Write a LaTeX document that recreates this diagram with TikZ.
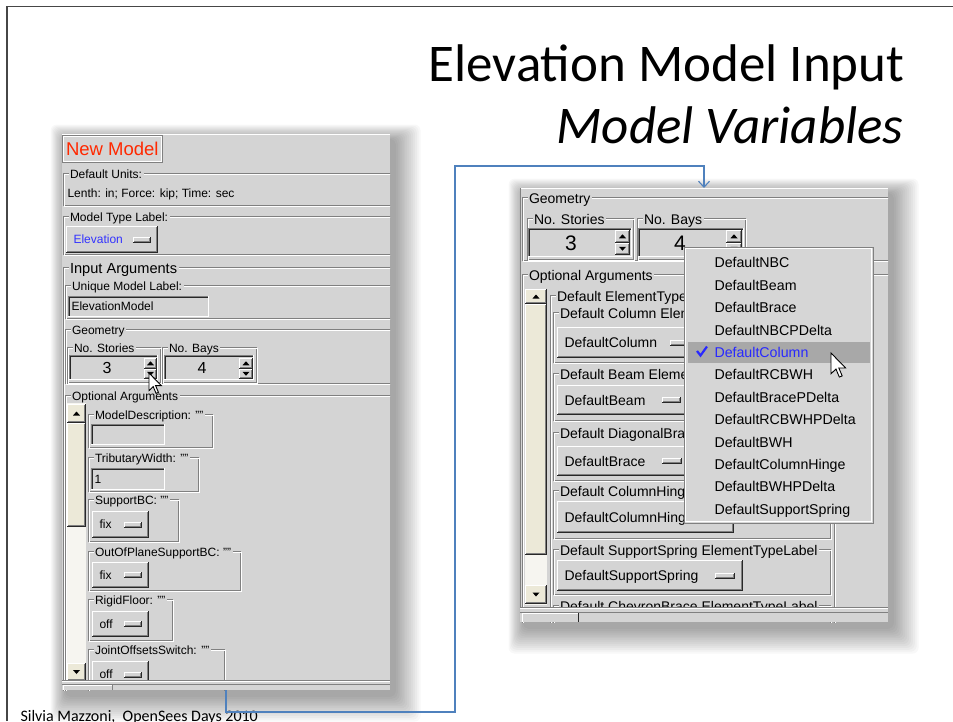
\documentclass[tikz,border=0pt]{standalone}
\usepackage{fontspec}
\setmainfont{Liberation Sans}
\newfontfamily\calfont{Carlito}
\usetikzlibrary{arrows.meta}
\definecolor{panel}{RGB}{212,212,212}
\definecolor{gdark}{RGB}{128,128,128}
\definecolor{bdark}{RGB}{40,40,40}
\definecolor{cream}{RGB}{236,233,216}
\definecolor{track}{RGB}{246,245,240}
\definecolor{menuc}{RGB}{214,214,214}
\definecolor{hl}{RGB}{168,168,168}
\definecolor{selblue}{RGB}{40,40,255}
\definecolor{eblue}{RGB}{50,50,255}
\definecolor{nmred}{RGB}{255,40,0}
\definecolor{connc}{RGB}{79,129,189}
\definecolor{framec}{RGB}{70,70,70}
\newcounter{gnode}
\newcommand\guiS{\fontsize{12}{13}\selectfont}
\newcommand\guiB{\fontsize{14.6}{16}\selectfont}
\newcommand\guiR{\fontsize{14}{15}\selectfont}
\newcommand\guiM{\fontsize{14.2}{15}\selectfont}
% raised box
\newcommand\gBtn[5][panel]{%
  \fill[#1] (#2,#3) rectangle (#4,#5);
  \draw[white] (#2+0.5,#5-1) -- (#2+0.5,#3+0.5) -- (#4-1,#3+0.5);
  \draw[bdark] (#2,#5-0.5) -- (#4-0.5,#5-0.5) -- (#4-0.5,#3);
  \draw[gdark] (#2+1,#5-1.5) -- (#4-1.5,#5-1.5) -- (#4-1.5,#3+1);
}
% sunken box
\newcommand\gSunk[4]{%
  \fill[panel] (#1,#2) rectangle (#3,#4);
  \draw[gdark] (#1+0.5,#4) -- (#1+0.5,#2+0.5) -- (#3,#2+0.5);
  \draw[bdark] (#1+1.5,#4-1) -- (#1+1.5,#2+1.5) -- (#3-1,#2+1.5);
  \draw[white] (#1,#4-0.5) -- (#3-0.5,#4-0.5) -- (#3-0.5,#2);
}
% etched group frame with label
\newcommand\gFrame[6]{%
  \draw[gdark] (#1+0.5,#2+0.5) rectangle (#3+0.5,#4+0.5);
  \draw[white] (#1+1.5,#2+1.5) rectangle (#3+1.5,#4+1.5);
  \stepcounter{gnode}%
  \node[#6] (g\arabic{gnode}) at (#1+5,#2+1) {#5};
}
% menubutton with text and indicator
\newcommand\gMB[8]{%
  \gBtn{#1}{#2}{#3}{#4}%
  \pgfmathsetmacro\gcy{(#2+#4)/2}%
  \stepcounter{gnode}%
  \node[#6] (g\arabic{gnode}) at (#1+7,\gcy) {#5};
  \gBtn{#7}{\gcy-3}{#8}{\gcy+3}%
}
\newcommand\gUp[2]{\fill[black] (#1-3.5,#2+2) -- (#1+3.5,#2+2) -- (#1,#2-2) -- cycle;}
\newcommand\gDown[2]{\fill[black] (#1-3.5,#2-2) -- (#1+3.5,#2-2) -- (#1,#2+2) -- cycle;}
\newcommand\gSpin[4]{%
  \pgfmathsetmacro\gmid{(#2+#4)/2}%
  \pgfmathsetmacro\gcx{(#1+#3)/2}%
  \pgfmathsetmacro\gua{(#2+\gmid)/2}%
  \pgfmathsetmacro\gda{(\gmid+#4)/2}%
  \gBtn{#1}{#2}{#3}{\gmid}%
  \gBtn{#1}{\gmid}{#3}{#4}%
  \gUp{\gcx}{\gua}\gDown{\gcx}{\gda}%
}
\newcommand\gShadow[4]{%
  \foreach \k in {1,...,14}{%
    \fill[black,opacity=0.028,rounded corners=6pt] (#1-1.1*\k+4,#2-1.1*\k+6) rectangle (#3+1.9*\k+4,#4+1.9*\k+5);
  }%
}
\newcommand\gCursor[3]{%
  \draw[black,fill=white,line width=0.9pt,line join=miter,shift={(#1,#2)},scale=#3]
    (0,0) -- (0,16) -- (3.8,12.3) -- (6.4,18.5) -- (8.6,17.6) -- (6,11.5) -- (11.2,11.5) -- cycle;
}
\tikzset{
  pnl/.style={fill=panel,draw=none,inner sep=0pt,outer sep=0pt},
  glabL/.style={anchor=west,fill=panel,inner xsep=1.5pt,inner ysep=0pt,font=\guiS,text height=8.6pt,text depth=0pt},
  glabR/.style={anchor=west,fill=panel,inner xsep=1.5pt,inner ysep=0pt,font=\guiR,text height=10pt,text depth=0pt},
  gtxtL/.style={anchor=west,inner sep=0pt,font=\guiS,text height=8.6pt,text depth=0pt},
  gtxtR/.style={anchor=west,inner sep=0pt,font=\guiR,text height=10pt,text depth=0pt},
  mitem/.style={anchor=west,inner sep=0pt,font=\guiM,text height=10.2pt,text depth=0pt},
  numL/.style={inner sep=0pt,font=\fontsize{16}{17}\selectfont,text height=11.5pt,text depth=0pt},
  numR/.style={inner sep=0pt,font=\fontsize{21}{22}\selectfont,text height=15pt,text depth=0pt},
  conn/.style={draw=connc,line width=1.1pt,-{Straight Barb[length=6pt,width=11pt]}},
}
\begin{document}
\begin{tikzpicture}[x=1pt,y=-1pt,line width=1pt]
\useasboundingbox (0,0) rectangle (953,721);
\fill[white] (0,0) rectangle (953,721);
% slide frame
\draw[framec,line width=1.3pt] (7,721) -- (7,6.5) -- (953,6.5);
% titles
\node[anchor=base east,inner sep=0pt,font=\calfont\fontsize{53}{60}\selectfont] (title) at (905,81) {Elevation Model Input};
\node[anchor=base east,inner sep=0pt,font=\calfont\itshape\fontsize{53}{60}\selectfont] (subtitle) at (904,143) {Model Variables};
\node[anchor=base west,inner sep=0pt,font=\calfont\fontsize{16}{18}\selectfont] (footer) at (20,721) {Silvia Mazzoni,\ \ OpenSees Days 2010};

% ================= LEFT PANEL =================
\gShadow{62}{134}{390}{690}
\node[pnl,minimum width=328pt,minimum height=556pt] (lp) at (226,412) {};
\begin{scope}
\clip (62,134) rectangle (390,690);
\draw[white] (62,134.5) -- (390,134.5);
\draw[gdark] (62.5,135.5) rectangle (162.5,162.5);
\draw[white] (63.5,136.5) rectangle (161.5,161.5);
\node[anchor=west,inner sep=0pt,text height=13pt,text depth=0pt,font=\fontsize{18.5}{19}\selectfont,text=nmred] (newmodel) at (65.5,149) {New Model};
\gFrame{63}{173}{400}{205}{Default Units:}{glabL}
\node[gtxtL] (units) at (67,193.5) {Lenth: in; Force: kip; Time: sec};
\gFrame{63}{216}{400}{254}{Model Type Label:}{glabL}
\gMB{66}{226}{158}{253}{Elevation}{gtxtL,text=eblue}{133}{151}
\gFrame{63}{267}{400}{700}{Input Arguments}{glabL,font=\guiB,text height=10.5pt}
\gFrame{65}{285}{400}{318}{Unique Model Label:}{glabL}
\gSunk{68}{296}{209}{317}
\node[gtxtL] (uml) at (71,306.5) {ElevationModel};
\gFrame{65}{329}{400}{383}{Geometry}{glabL}
\gFrame{67}{347}{160}{382}{No. Stories}{glabL}
\gSunk{69}{355}{158}{380}
\node[numL] (nsL) at (107,368) {3};
\gSpin{144}{358}{157}{379}
\gFrame{162}{347}{256}{382}{No. Bays}{glabL}
\gSunk{164}{355}{254}{380}
\node[numL] (nbL) at (202,368) {4};
\gSpin{239}{358}{253}{379}
\gFrame{65}{395}{400}{700}{Optional Arguments}{glabL}
% scrollbar
\fill[track] (67,403) rectangle (86,680);
\gBtn[cream]{67}{404}{86}{423}
\gUp{76.5}{413.5}
\gBtn[cream]{67}{423}{86}{527}
\gBtn[cream]{67}{663}{86}{681}
\gDown{76.5}{672}
% argument groups
\gFrame{88}{414}{212}{447}{ModelDescription: ""}{glabL}
\gSunk{91}{424}{165}{445}
\gFrame{88}{457}{198}{491}{TributaryWidth: ""}{glabL}
\gSunk{91}{468}{165}{490}
\node[gtxtL] (tw) at (94,479) {1};
\gFrame{88}{499}{178}{541}{SupportBC: ""}{glabL}
\gMB{92}{511}{149}{538}{fix}{gtxtL}{124}{142}
\gFrame{88}{551}{240}{590}{OutOfPlaneSupportBC: ""}{glabL}
\gMB{92}{562}{149}{588}{fix}{gtxtL}{124}{142}
\gFrame{88}{599}{172}{640}{RigidFloor: ""}{glabL}
\gMB{92}{611}{149}{637}{off}{gtxtL}{124}{142}
\gFrame{88}{649}{224}{700}{JointOffsetsSwitch: ""}{glabL}
\gMB{92}{661}{149}{688}{off}{gtxtL}{124}{142}
% bottom strip
\fill[panel] (62,680) rectangle (390,690);
\draw[gdark] (62,680.5) -- (390,680.5);
\draw[white] (62,681.5) -- (390,681.5);
\draw[gdark] (62,684.5) -- (390,684.5);
\draw[white] (63.5,690) -- (63.5,685.5) -- (112,685.5);
\draw[gdark] (112.5,685) -- (112.5,690);
\end{scope}
\gCursor{149}{373}{1.1}

% ================= RIGHT PANEL =================
\gShadow{520}{188}{888}{622}
\node[pnl,minimum width=368pt,minimum height=434pt] (rp) at (704,405) {};
\begin{scope}
\clip (520,188) rectangle (888,622);
\draw[white] (520,188.5) -- (888,188.5);
\draw[gdark] (520.5,188) -- (520.5,622);
\gFrame{522}{197}{900}{260}{Geometry}{glabR}
\gFrame{527}{218}{633}{259}{No. Stories}{glabR}
\gSunk{528}{228}{632}{257}
\node[numR] (nsR) at (571,243) {3};
\gSpin{615}{230}{630}{255}
\gFrame{637}{218}{745}{259}{No. Bays}{glabR}
\gSunk{638}{228}{744}{257}
\node[numR] (nbR) at (680,243) {4};
\gSpin{726}{230}{742}{255}
\gFrame{522}{274}{900}{660}{Optional Arguments}{glabR}
% scrollbar
\fill[track] (525,289) rectangle (547,605);
\gBtn[cream]{525}{289}{547}{304}
\gUp{536}{296.5}
\gBtn[cream]{525}{304}{547}{555}
\gBtn[cream]{525}{585}{547}{604}
\gDown{536}{594.5}
% element type groups
\gFrame{550}{295}{834}{670}{Default ElementTypeLabel}{glabR}
\gFrame{553}{312}{830}{362}{Default Column ElementTypeLabel}{glabR}
\gMB{557}{327}{705}{358}{DefaultColumn}{gtxtR}{670}{690}
\gFrame{553}{373}{830}{420}{Default Beam ElementTypeLabel}{glabR}
\gMB{557}{385}{690}{415}{DefaultBeam}{gtxtR}{662}{681}
\gFrame{553}{432}{830}{480}{Default DiagonalBrace ElementTypeLabel}{glabR}
\gMB{557}{446}{690}{476}{DefaultBrace}{gtxtR}{662}{682}
\gFrame{553}{490}{830}{538}{Default ColumnHinge ElementTypeLabel}{glabR}
\gMB{557}{501}{734}{533}{DefaultColumnHinge}{gtxtR}{706}{726}
\gFrame{553}{549}{830}{594}{Default SupportSpring ElementTypeLabel}{glabR}
\gMB{557}{560}{743}{591}{DefaultSupportSpring}{gtxtR}{715}{735}
\gFrame{553}{605}{830}{650}{Default ChevronBrace ElementTypeLabel}{glabR}
% bottom strip
\fill[panel] (520,607) rectangle (888,622);
\draw[gdark] (520,607.5) -- (888,607.5);
\draw[white] (520,608.5) -- (888,608.5);
\draw[gdark] (520,612.5) -- (888,612.5);
\draw[white] (522.5,622) -- (522.5,613.5) -- (578,613.5);
\draw[bdark] (578.5,613) -- (578.5,622);
\end{scope}

% ================= DROP-DOWN MENU =================
\node[fill=menuc,draw=gdark,inner sep=0pt,minimum width=189pt,minimum height=276pt] (menu) at (778.5,385) {};
\draw[white,line width=1.5pt] (685.5,248.5) rectangle (871.5,521.5);
\fill[hl] (688,342) rectangle (870,363);
\node[mitem] (m1) at (714,262.7) {DefaultNBC};
\node[mitem] (m2) at (714,285.1) {DefaultBeam};
\node[mitem] (m3) at (714,307.5) {DefaultBrace};
\node[mitem] (m4) at (714,329.9) {DefaultNBCPDelta};
\node[mitem,text=selblue] (m5) at (714,352.3) {DefaultColumn};
\node[mitem] (m6) at (714,374.7) {DefaultRCBWH};
\node[mitem] (m7) at (714,397.1) {DefaultBracePDelta};
\node[mitem] (m8) at (714,419.5) {DefaultRCBWHPDelta};
\node[mitem] (m9) at (714,441.9) {DefaultBWH};
\node[mitem] (m10) at (714,464.3) {DefaultColumnHinge};
\node[mitem] (m11) at (714,486.7) {DefaultBWHPDelta};
\node[mitem] (m12) at (714,509.1) {DefaultSupportSpring};
\draw[selblue,line width=2.2pt] (697,351) -- (700.5,355.5) -- (707,346.5);
\gCursor{831}{353}{1.3}

% ================= CONNECTOR =================
\coordinate (cb) at (455,712);
\coordinate (ct) at (455,166);
\draw[conn] (lp.south) |- (cb) -- (ct) -| (rp.north);
\end{tikzpicture}
\end{document}
